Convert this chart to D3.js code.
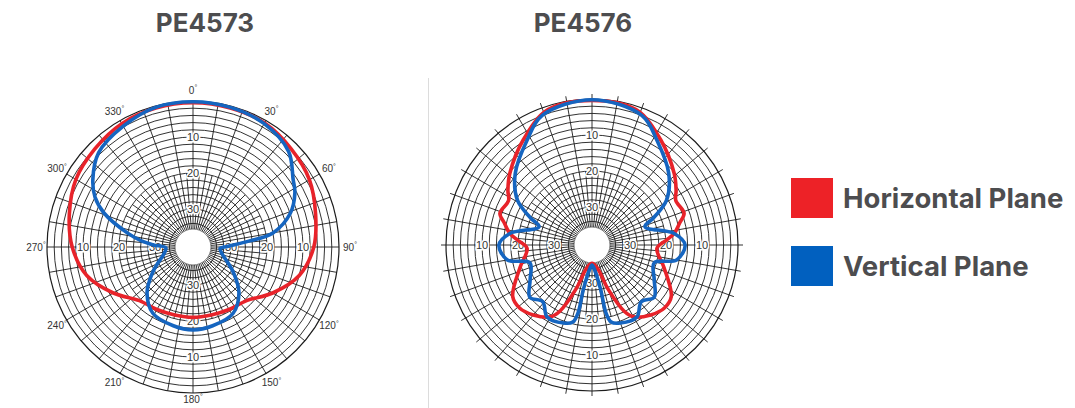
<!DOCTYPE html>
<html>
<head>
<meta charset="utf-8">
<script src="https://cdn.jsdelivr.net/npm/d3@7"></script>
<style>
  body { margin: 0; background: #fff; }
</style>
</head>
<body>
<svg id="chart" width="1075" height="408"></svg>
<script>
// ---- data (angle in degrees clockwise from top, level in dB below peak) ----
var titles = ["PE4573", "PE4576"];
var seriesNames = ["Horizontal Plane", "Vertical Plane"];
var angleLabels = [0, 30, 60, 90, 120, 150, 180, 210, 240, 270, 300, 330];
var ringLabels = [10, 20, 30];

// PE4573
var pe4573HAngles = [0, 15, 30, 45, 60, 75, 90, 105, 120, 135, 150, 165, 180, 195, 210, 225, 240, 255, 270, 285, 300, 315, 330, 345];
var pe4573HDb     = [0.5, 0.6, 0.8, 2, 3.2, 5.3, 7, 10, 15, 19.5, 20.5, 21, 21, 21, 20.5, 19.5, 15, 10, 7, 5, 3, 2, 1, 0.6];
var pe4573VAngles = [0, 15, 30, 45, 56, 62, 71, 80, 84, 89, 93, 105, 114, 123, 135, 149, 166, 180, 194, 211, 225, 237, 246, 255, 268, 273, 277, 282, 291, 297, 304, 315, 330, 345];
var pe4573VDb     = [0.2, 0.4, 1, 3, 7, 8.5, 12, 18, 25, 31, 33, 32, 30, 27, 22.5, 19, 18, 17.5, 18, 19, 22.5, 27, 30, 32, 33, 29.5, 26, 22, 14, 10, 7, 3.5, 1.8, 0.4];

// PE4576
var pe4576HAngles = [0, 18, 33, 49, 57, 62, 71, 76, 82, 86, 93, 107, 123, 131, 140, 150, 154, 160, 167, 180, 193, 200, 206, 210, 220, 229, 237, 253, 267, 274, 278, 284, 289, 298, 303, 311, 327, 342];
var pe4576HDb     = [0.4, 1, 5.6, 10.3, 12.7, 14.2, 13.5, 15.5, 17.5, 19.7, 22.5, 19.7, 14.3, 13.9, 15.2, 17.5, 20, 27.5, 34, 35.5, 34, 27.5, 20, 17.5, 15.2, 13.9, 14.3, 19.7, 22.5, 19.7, 17.5, 15.5, 13.5, 14.3, 12.7, 10.3, 5.6, 1];
var pe4576VAngles = [0, 21, 32, 47, 59, 66, 71, 82, 90, 100, 106, 119, 130, 139, 148, 160, 166, 168.4, 169, 175, 180, 185, 191, 191.6, 194, 200, 212, 221, 230, 240.5, 254, 260, 270, 278, 289, 294, 301, 313, 328, 339];
var pe4576VDb     = [0.2, 2, 6.4, 11.4, 16.4, 21.7, 25, 17.5, 14.7, 16.7, 22.6, 20.8, 18, 19.7, 17, 17.5, 18.5, 21.4, 28, 34, 35, 34, 28, 21.4, 18.5, 17.5, 17, 19.7, 18, 20.8, 22.6, 16.7, 14.7, 17.5, 25, 21.7, 16.4, 11.4, 6.4, 2];

var colors = { h: "#e8232a", v: "#1565c0" };
var legendColors = ["#ed2227", "#0160bf"];

var svg = d3.select("#chart");
var rad = Math.PI / 180;

// level scale: 0 dB at the outer circle
var r = d3.scaleLinear().domain([0, 40]).range([146, 2]);
var holeR = 18;

function zip(angles, dbs) {
  return angles.map(function(a, i) { return { a: a, db: dbs[i] }; });
}

function drawPolar(cx, cy, opts) {
  var g = svg.append("g").attr("transform", "translate(" + cx + "," + cy + ")");
  var grid = g.append("g").attr("stroke", "#1c1c1c").attr("fill", "none");

  // rings every 2 dB
  grid.selectAll("circle.ring")
    .data(d3.range(0, 35, 2))
    .enter().append("circle")
      .attr("class", "ring")
      .attr("r", function(d) { return r(d); })
      .attr("stroke-width", function(d) { return d === 0 ? 1.2 : 0.9; });

  // spokes: 10 deg full length, 5 deg near the centre
  grid.selectAll("line.spoke")
    .data(d3.range(0, 360, 5))
    .enter().append("line")
      .attr("class", "spoke")
      .attr("x1", function(d) { return holeR * Math.sin(d * rad); })
      .attr("y1", function(d) { return -holeR * Math.cos(d * rad); })
      .attr("x2", function(d) {
        var len = d % 10 === 0 ? r(0) + opts.overhang : r(20);
        return len * Math.sin(d * rad);
      })
      .attr("y2", function(d) {
        var len = d % 10 === 0 ? r(0) + opts.overhang : r(20);
        return -len * Math.cos(d * rad);
      })
      .attr("stroke-width", 0.9);

  // centre hole
  g.append("circle")
    .attr("r", holeR)
    .attr("fill", "#fff")
    .attr("stroke", "#555")
    .attr("stroke-width", 0.8);

  // level labels on the four axes
  var lab = [];
  [0, 90, 180, 270].forEach(function(ax) {
    ringLabels.forEach(function(v) { lab.push({ ax: ax, v: v }); });
  });
  g.selectAll("text.lvl")
    .data(lab)
    .enter().append("text")
      .attr("class", "lvl")
      .attr("x", function(d) { return r(d.v) * Math.sin(d.ax * rad); })
      .attr("y", function(d) { return -r(d.v) * Math.cos(d.ax * rad); })
      .attr("dy", "0.35em")
      .attr("text-anchor", "middle")
      .attr("font-family", "Liberation Sans, Arial, sans-serif")
      .attr("font-size", 11)
      .attr("fill", "#333")
      .attr("stroke", "#fff")
      .attr("stroke-width", 3)
      .attr("paint-order", "stroke")
      .text(function(d) { return d.v; });

  // angle labels
  if (opts.angles) {
    var al = g.selectAll("text.ang")
      .data(angleLabels)
      .enter().append("text")
        .attr("class", "ang")
        .attr("x", function(d) { return 157 * Math.sin(d * rad); })
        .attr("y", function(d) { return -(d === 180 ? 152 : 157) * Math.cos(d * rad); })
        .attr("dy", "0.35em")
        .attr("text-anchor", "middle")
        .attr("font-family", "Liberation Sans, Arial, sans-serif")
        .attr("font-size", 10)
        .attr("fill", "#333");
    al.append("tspan").text(function(d) { return d; });
    al.append("tspan").attr("font-size", 7).attr("dy", "-0.5em").text("°");
  }

  var line = d3.lineRadial()
    .angle(function(d) { return d.a * rad; })
    .radius(function(d) { return r(d.db); })
    .curve(d3.curveCatmullRomClosed.alpha(0.5));

  g.append("path")
    .datum(opts.h)
    .attr("d", line)
    .attr("fill", "none")
    .attr("stroke", colors.h)
    .attr("stroke-width", 3.6)
    .attr("stroke-linejoin", "round");

  g.append("path")
    .datum(opts.v)
    .attr("d", line)
    .attr("fill", "none")
    .attr("stroke", colors.v)
    .attr("stroke-width", 3.6)
    .attr("stroke-linejoin", "round");
}

drawPolar(193, 247, {
  h: zip(pe4573HAngles, pe4573HDb),
  v: zip(pe4573VAngles, pe4573VDb),
  angles: true,
  overhang: 0
});

drawPolar(592, 245, {
  h: zip(pe4576HAngles, pe4576HDb),
  v: zip(pe4576VAngles, pe4576VDb),
  angles: false,
  overhang: 5
});

// titles
svg.selectAll("text.title")
  .data(titles)
  .enter().append("text")
    .attr("class", "title")
    .attr("x", function(d, i) { return i === 0 ? 205 : 583; })
    .attr("y", 32)
    .attr("text-anchor", "middle")
    .attr("font-family", "Inter, Open Sans, sans-serif")
    .attr("font-weight", 700)
    .attr("font-size", 26)
    .attr("fill", "#4d4d4f")
    .text(function(d) { return d; });

// divider
svg.append("line")
  .attr("x1", 428.5).attr("x2", 428.5)
  .attr("y1", 78).attr("y2", 408)
  .attr("stroke", "#dcdcdc")
  .attr("stroke-width", 1);

// legend
var legend = svg.selectAll("g.legend")
  .data(seriesNames)
  .enter().append("g")
    .attr("class", "legend")
    .attr("transform", function(d, i) { return "translate(791," + (178 + i * 68) + ")"; });

legend.append("rect")
  .attr("width", 42)
  .attr("height", 40)
  .attr("fill", function(d, i) { return legendColors[i]; });

legend.append("text")
  .attr("x", 52)
  .attr("y", 30)
  .attr("font-family", "Inter, Open Sans, sans-serif")
  .attr("font-weight", 700)
  .attr("font-size", 27.5)
  .attr("fill", "#4d4d4f")
  .text(function(d) { return d; });
</script>
</body>
</html>
